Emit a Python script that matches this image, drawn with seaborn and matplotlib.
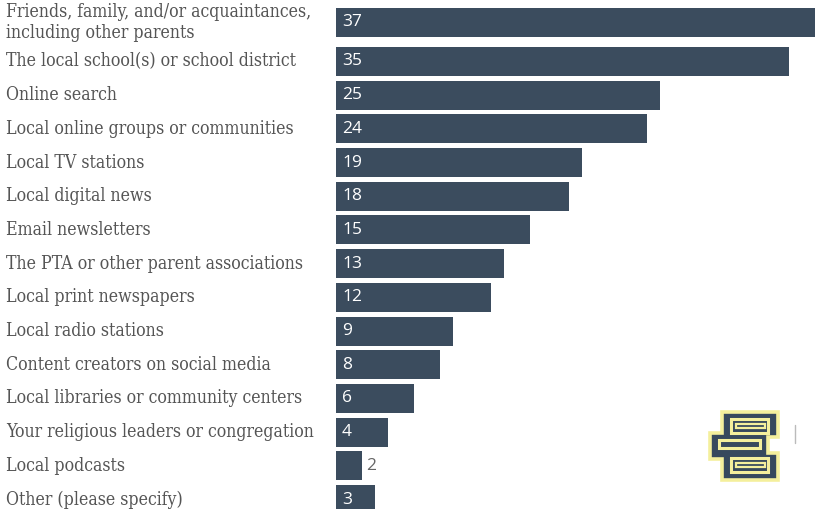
import matplotlib
matplotlib.use("Agg")
import matplotlib.pyplot as plt
import matplotlib.transforms as mtransforms
from matplotlib.patches import Rectangle, Polygon
import seaborn as sns
import pandas as pd

# Where parents get information about local schools (% of respondents)
sources = [
    "Friends, family, and/or acquaintances,\nincluding other parents",
    "The local school(s) or school district",
    "Online search",
    "Local online groups or communities",
    "Local TV stations",
    "Local digital news",
    "Email newsletters",
    "The PTA or other parent associations",
    "Local print newspapers",
    "Local radio stations",
    "Content creators on social media",
    "Local libraries or community centers",
    "Your religious leaders or congregation",
    "Local podcasts",
    "Other (please specify)",
]
shares = [37, 35, 25, 24, 19, 18, 15, 13, 12, 9, 8, 6, 4, 2, 3]

BAR = "#3b4c5e"
LABEL = "#555555"

df = pd.DataFrame({"source": sources, "share": shares})

sns.set_theme(style="white")
W, H = 817, 509
fig = plt.figure(figsize=(W / 100, H / 100), dpi=100)
ax = fig.add_axes([336 / W, 0, (815 - 336) / W, 1])

sns.barplot(data=df, y="source", x="share", orient="h", color=BAR,
            saturation=1, width=0.86, linewidth=0, ax=ax)

ax.set_xlim(0, max(shares))
ax.set_ylim(14.28, -0.825)
ax.axis("off")

# the two-line first row sits a little higher than the regular grid
first_shift = -0.16
ax.patches[0].set_y(ax.patches[0].get_y() + first_shift)

row_y = [i + (first_shift if i == 0 else 0) for i in range(len(sources))]

lab_tr = mtransforms.blended_transform_factory(fig.transFigure, ax.transData)
for y, name in zip(row_y, sources):
    fig.text(6 / W, y, name, transform=lab_tr, ha="left", va="center",
             fontsize=12.7, family="DejaVu Serif", fontstretch="condensed",
             color=LABEL, linespacing=1.18)

px = max(shares) / (815 - 336)  # data units per pixel
for y, v in zip(row_y, shares):
    if v >= 3:
        ax.text(6 * px, y, f"{v}", ha="left", va="center", fontsize=12.5,
                family="Open Sans", color="white")
    else:
        ax.text(v + 4 * px, y, f"{v}", ha="left", va="center", fontsize=12.5,
                family="Open Sans", color="#666666")

# brand mark in the lower right corner
logo = fig.add_axes([706 / W, 1 - 484 / H, 78 / W, 78 / H])
logo.set_xlim(0, 78)
logo.set_ylim(78, 0)
logo.axis("off")
YEL = "#f4ef9c"
NAVY = "#37495d"
outline = [(16, 6), (72, 6), (72, 31), (62, 31), (62, 47), (72, 47),
           (72, 74), (16, 74), (16, 53), (4, 53), (4, 27), (16, 27)]
logo.add_patch(Polygon(outline, closed=True, facecolor=NAVY, edgecolor=YEL,
                       linewidth=2.6, joinstyle="miter"))
for (x0, y0, w, h) in [(25, 13, 37, 14), (13, 34, 41, 8), (25, 52, 37, 14)]:
    logo.add_patch(Rectangle((x0, y0), w, h, facecolor=NAVY, edgecolor=YEL,
                             linewidth=2.2))
for (x0, y0, w, h) in [(30, 18, 29, 4), (30, 57, 29, 4)]:
    logo.add_patch(Rectangle((x0, y0), w, h, facecolor=NAVY, edgecolor=YEL,
                             linewidth=1.6))
fig.add_artist(plt.Line2D([795 / W, 795 / W], [1 - 425 / H, 1 - 443 / H],
                          color="#bbbbbb", linewidth=1))

fig.savefig("out.png", dpi=100, facecolor="white")
